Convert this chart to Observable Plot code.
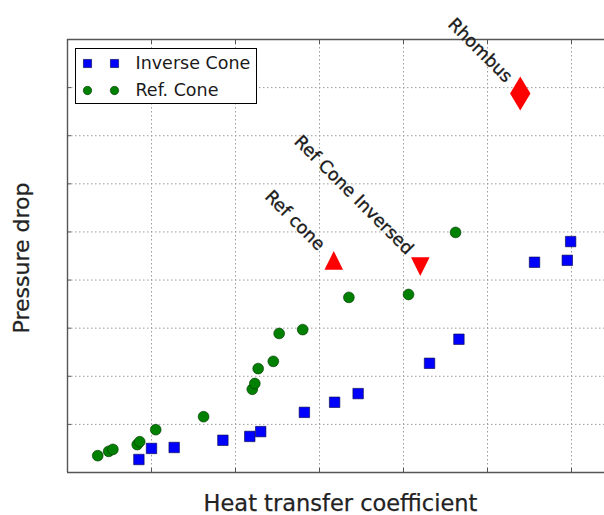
<!DOCTYPE html>
<html>
<head>
<meta charset="utf-8">
<script src="https://cdn.jsdelivr.net/npm/d3@7"></script>
<script src="https://cdn.jsdelivr.net/npm/@observablehq/plot@0.6"></script>
<style>
  body { margin: 0; background: #fff; }
  svg { display: block; }
</style>
</head>
<body>
<div id="chart"></div>
<script>
// Inverse cone measurements
const inverseConeX = [0.85, 1.00, 1.27, 1.85, 2.17, 2.30, 2.82, 3.18, 3.46, 4.31, 4.66, 5.56, 5.95, 5.99];
const inverseConeY = [0.27, 0.50, 0.52, 0.67, 0.75, 0.85, 1.25, 1.46, 1.64, 2.27, 2.77, 4.37, 4.41, 4.80];

// Reference cone measurements
const refConeX = [0.36, 0.49, 0.54, 0.83, 0.86, 1.05, 1.62, 2.20, 2.23, 2.27, 2.45, 2.52, 2.80, 3.35, 4.06, 4.62];
const refConeY = [0.35, 0.44, 0.48, 0.58, 0.64, 0.89, 1.16, 1.73, 1.85, 2.16, 2.31, 2.89, 2.97, 3.64, 3.70, 4.99];

// Single annotated geometries
const shapeNames = ["Ref cone", "Ref Cone Inversed", "Rhombus"];
const shapeX = [3.17, 4.20, 5.39];
const shapeY = [4.41, 4.28, 7.88];

const legendLabels = ["Inverse Cone", "Ref. Cone"];
const xLabel = "Heat transfer coefficient";
const yLabel = "Pressure drop";

const xTicks = [1, 2, 3, 4, 5, 6];
const yTicks = [1, 2, 3, 4, 5, 6, 7, 8];
const xDomain = [0, 6.393];
const yDomain = [0, 9];

const inverseCone = inverseConeX.map((x, i) => ({x, y: inverseConeY[i]}));
const refCone = refConeX.map((x, i) => ({x, y: refConeY[i]}));
const shapes = shapeNames.map((name, i) => ({name, x: shapeX[i], y: shapeY[i]}));

// Marker outlines in the style of matplotlib's '^', 'v' and 'd'
const triangleUp = {draw(ctx, size) {
  const r = Math.sqrt(size / Math.PI);
  ctx.moveTo(0, -r); ctx.lineTo(r, r); ctx.lineTo(-r, r); ctx.closePath();
}};
const triangleDown = {draw(ctx, size) {
  const r = Math.sqrt(size / Math.PI);
  ctx.moveTo(0, r); ctx.lineTo(r, -r); ctx.lineTo(-r, -r); ctx.closePath();
}};
const thinDiamond = {draw(ctx, size) {
  const r = Math.sqrt(size / Math.PI);
  ctx.moveTo(0, -r); ctx.lineTo(0.6 * r, 0); ctx.lineTo(0, r); ctx.lineTo(-0.6 * r, 0); ctx.closePath();
}};

const spine = "#555";
const ink = "#1a1a1a";
const grid = {stroke: "#9a9a9a", strokeOpacity: 1, strokeDasharray: "1.5,2.5", strokeWidth: 1};
const bare = {tickSize: -4, tickFormat: () => "", label: null, stroke: spine};
const labelFont = {fontSize: 17.5, fill: ink, stroke: ink, strokeWidth: 0.35, rotate: 45, textAnchor: "end", lineAnchor: "middle"};
const legendFont = {frameAnchor: "top-left", textAnchor: "start", lineAnchor: "middle", fontSize: 17.5, fill: ink, text: d => d};

const chart = Plot.plot({
  width: 604,
  height: 515,
  marginLeft: 67,
  marginTop: 39,
  marginRight: 0,
  marginBottom: 43,
  x: {domain: xDomain, axis: null},
  y: {domain: yDomain, axis: null},
  style: {fontFamily: "DejaVu Sans, sans-serif", background: "#fff"},
  marks: [
    Plot.gridX(xTicks, grid),
    Plot.gridY(yTicks, grid),
    Plot.axisX(xTicks, {anchor: "bottom", ...bare}),
    Plot.axisX(xTicks, {anchor: "top", ...bare}),
    Plot.axisY(yTicks, {anchor: "left", ...bare}),
    Plot.ruleY(yDomain, {stroke: spine, strokeWidth: 1.4}),
    Plot.ruleX([xDomain[0]], {stroke: spine, strokeWidth: 1.4}),

    // data series
    Plot.dot(inverseCone, {x: "x", y: "y", symbol: "square", r: 5.9, fill: "#0000ff", stroke: "#000040", strokeWidth: 0.6}),
    Plot.dot(refCone, {x: "x", y: "y", symbol: "circle", r: 5.4, fill: "#008000", stroke: "#003000", strokeWidth: 0.6}),

    // annotated geometries
    Plot.dot(shapes.filter(d => d.name === "Ref cone"), {x: "x", y: "y", symbol: triangleUp, r: 9.3, fill: "#ff0000"}),
    Plot.dot(shapes.filter(d => d.name === "Ref Cone Inversed"), {x: "x", y: "y", symbol: triangleDown, r: 9.3, fill: "#ff0000"}),
    Plot.dot(shapes.filter(d => d.name === "Rhombus"), {x: "x", y: "y", symbol: thinDiamond, r: 17, fill: "#ff0000"}),
    Plot.text(shapes.filter(d => d.name === "Ref cone"), {x: "x", y: "y", text: "name", dx: -12, dy: -13, ...labelFont}),
    Plot.text(shapes.filter(d => d.name === "Ref Cone Inversed"), {x: "x", y: "y", text: "name", dx: -10, dy: -15, ...labelFont}),
    Plot.text(shapes.filter(d => d.name === "Rhombus"), {x: "x", y: "y", text: "name", dx: -11, dy: -14, ...labelFont}),

    // legend
    Plot.frame({fill: "#fff", stroke: "#000", strokeWidth: 1, insetLeft: 8, insetTop: 9, insetRight: 348, insetBottom: 369}),
    Plot.dot([legendLabels[0]], {frameAnchor: "top-left", dx: 20, dy: 24, symbol: "square", r: 4.6, fill: "#0000ff", stroke: "#000040", strokeWidth: 0.6}),
    Plot.dot([legendLabels[0]], {frameAnchor: "top-left", dx: 47, dy: 24, symbol: "square", r: 4.6, fill: "#0000ff", stroke: "#000040", strokeWidth: 0.6}),
    Plot.dot([legendLabels[1]], {frameAnchor: "top-left", dx: 20, dy: 51, symbol: "circle", r: 4.2, fill: "#008000", stroke: "#003000", strokeWidth: 0.6}),
    Plot.dot([legendLabels[1]], {frameAnchor: "top-left", dx: 47, dy: 51, symbol: "circle", r: 4.2, fill: "#008000", stroke: "#003000", strokeWidth: 0.6}),
    Plot.text([legendLabels[0]], {dx: 68, dy: 24, ...legendFont}),
    Plot.text([legendLabels[1]], {dx: 68, dy: 51, ...legendFont}),

    // axis titles
    Plot.text([xLabel], {frameAnchor: "bottom", textAnchor: "middle", lineAnchor: "middle", dx: 4.5, dy: 31, text: d => d, fontSize: 22.5, fill: "#222", stroke: "#222", strokeWidth: 0.25}),
    Plot.text([yLabel], {frameAnchor: "left", textAnchor: "middle", lineAnchor: "middle", dx: -46, dy: 2, text: d => d, rotate: -90, fontSize: 22, fill: "#222", stroke: "#222", strokeWidth: 0.25})
  ]
});

document.getElementById("chart").append(chart);
</script>
</body>
</html>
